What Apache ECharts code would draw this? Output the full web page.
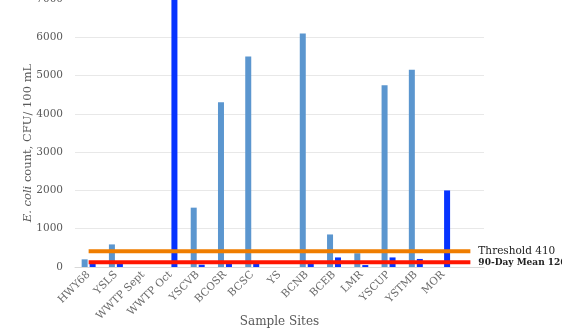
<!DOCTYPE html>
<html>
<head>
<meta charset="utf-8">
<script src="https://cdn.jsdelivr.net/npm/echarts@6/dist/echarts.min.js"></script>
<style>
html,body{margin:0;padding:0;background:#fff;}
#c{width:562px;height:328px;}
</style>
</head>
<body>
<div id="c"></div>
<script>
const categories = ['HWY68','YSLS','WWTP Sept','WWTP Oct','YSCVB','BCOSR','BCSC','YS','BCNB','BCEB','LMR','YSCUP','YSTMB','MOR',''];
const seriesA = [200, 590, null, null, 1550, 4300, 5500, null, 6100, 850, 360, 4750, 5150, null, null];
const seriesB = [110, 110, null, 7600, 60, 110, 110, null, 110, 250, 50, 250, 210, 2000, null];
const threshold = [410,410,410,410,410,410,410,410,410,410,410,410,410,410,410];
const mean90 = [126,126,126,126,126,126,126,126,126,126,126,126,126,126,126];
const yTicks = [0,1000,2000,3000,4000,5000,6000,7000];

const serif = 'DejaVu Serif';
const chart = echarts.init(document.getElementById('c'));
chart.setOption({
  animation: false,
  backgroundColor: '#fff',
  grid: {left: 75, right: 78, top: -1, bottom: 61, containLabel: false, outerBoundsMode: 'none'},
  xAxis: {
    type: 'category',
    data: categories,
    axisTick: {show: false},
    axisLine: {lineStyle: {color: '#d9d9d9'}},
    axisLabel: {rotate: 45, interval: 0, color: '#6b6b6b', fontFamily: serif, fontSize: 10.5, margin: 6},
    name: 'Sample Sites',
    nameLocation: 'middle',
    nameGap: 49,
    nameMoveOverlap: false,
    nameTextStyle: {color: '#595959', fontFamily: serif, fontSize: 12, verticalAlign: 'top'}
  },
  yAxis: {
    type: 'value',
    min: yTicks[0],
    max: yTicks[yTicks.length - 1],
    interval: 1000,
    axisLine: {show: false},
    axisTick: {show: false},
    splitLine: {lineStyle: {color: '#e8e8e8'}},
    axisLabel: {color: '#595959', fontFamily: serif, fontSize: 10.5, margin: 12, formatter: function (v) { return String(v); }}
  },
  series: [
    {type: 'bar', data: seriesA, barWidth: 6, barGap: '33%', itemStyle: {color: '#5B96CF'}},
    {type: 'bar', data: seriesB, barWidth: 6, itemStyle: {color: '#0633FF'}},
    {type: 'line', data: threshold, symbol: 'none', lineStyle: {color: '#EF7D00', width: 4},
     endLabel: {show: true, formatter: 'Threshold 410', distance: 8, color: '#222', fontFamily: serif, fontSize: 10.5}},
    {type: 'line', data: mean90, symbol: 'none', lineStyle: {color: '#FF1500', width: 4},
     endLabel: {show: true, formatter: '90-Day Mean 126', distance: 8, color: '#222', fontFamily: serif, fontSize: 9, fontWeight: 'bold'}}
  ],
  graphic: [{
    type: 'text',
    x: 28, y: 143,
    rotation: Math.PI / 2,
    style: {
      text: '{i|E. coli} count, CFU/ 100 mL',
      rich: {i: {fontStyle: 'italic', fontFamily: serif, fontSize: 11.5, fill: '#595959'}},
      fontFamily: serif, fontSize: 11.5, fill: '#595959',
      align: 'center', verticalAlign: 'middle'
    }
  }]
});
</script>
</body>
</html>
